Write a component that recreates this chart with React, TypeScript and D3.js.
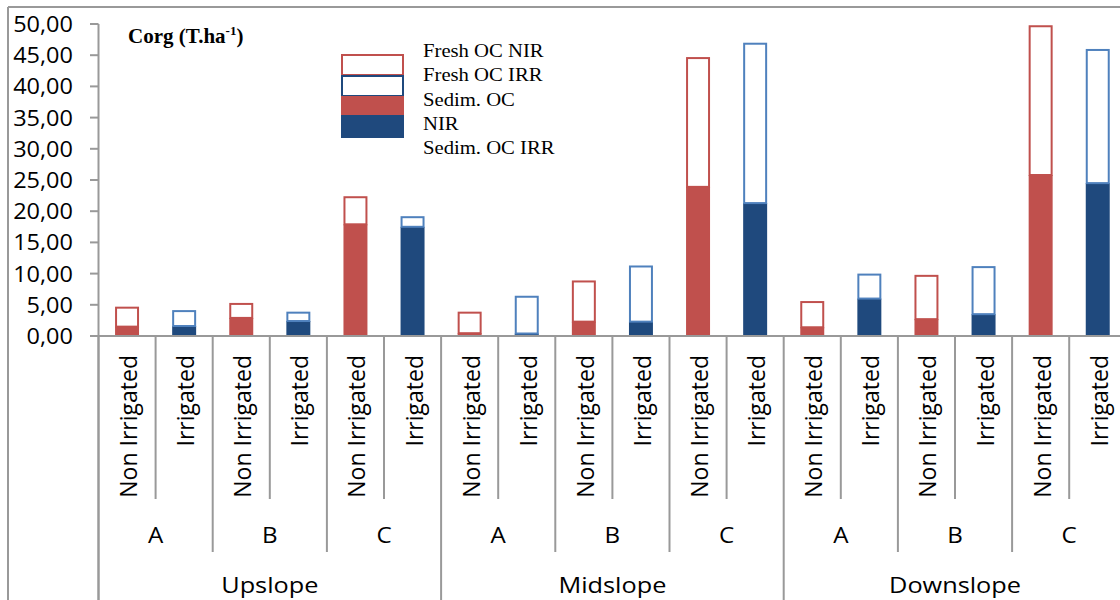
import React from "react";
import * as d3 from "d3";

const slopes = ["Upslope", "Midslope", "Downslope"];
const zones = ["A", "B", "C"];
const treatments = ["Non Irrigated", "Irrigated"];

// Sedimentary organic carbon (filled part of the bar)
const sedimOC = [1.5, 1.6, 2.9, 2.4, 17.9, 17.5, 0.45, 0.4, 2.3, 2.3, 23.9, 21.3, 1.4, 6.0, 2.7, 3.5, 25.8, 24.5];
// Fresh organic carbon (outlined part, stacked on top)
const freshOC = [3.2, 2.55, 2.4, 1.5, 4.5, 1.7, 3.45, 6.05, 6.6, 9.0, 20.8, 25.7, 4.2, 4.0, 7.1, 7.7, 24.0, 21.5];

const yTicks = [0, 5, 10, 15, 20, 25, 30, 35, 40, 45, 50];
const legendItems = ["Fresh OC NIR", "Fresh OC IRR", "Sedim. OC", "NIR", "Sedim. OC IRR"];

const RED = "#C0504D";
const BLUE = "#1F497D";
const LBLUE = "#4F81BD";
const GRID = "#999999";

type Cat = { slope: string; zone: string; treat: string; key: string; sed: number; fresh: number; irr: boolean };

const cats: Cat[] = [];
slopes.forEach((s) =>
  zones.forEach((z) =>
    treatments.forEach((t) => {
      const i = cats.length;
      cats.push({ slope: s, zone: z, treat: t, key: `${s}-${z}-${t}`, sed: sedimOC[i], fresh: freshOC[i], irr: t === "Irrigated" });
    })
  )
);

const SX = 1.15;

function WideText(props: { x: number; y: number; anchor?: string; size: number; family: string; weight?: string; children: any; baseline?: string; sx?: number }) {
  const { x, y, anchor = "start", size, family, weight = "normal", children, baseline, sx = SX } = props;
  return (
    <text
      transform={`translate(${x},${y}) scale(${sx},1)`}
      textAnchor={anchor}
      fontSize={size}
      fontFamily={family}
      fontWeight={weight}
      dominantBaseline={baseline}
      fill="#000"
    >
      {children}
    </text>
  );
}

export default function App() {
  const W = 1120;
  const H = 600;
  const x0 = 98.5;
  const step = 57.1;
  const x = d3
    .scaleBand<string>()
    .domain(cats.map((c) => c.key))
    .range([x0, x0 + step * cats.length])
    .padding(0);
  const y = d3.scaleLinear().domain([0, 50]).range([336, 24]);
  const barW = x.bandwidth() * 0.42;
  const sans = "'Open Sans', sans-serif";
  const serif = "'Liberation Serif', 'Times New Roman', serif";

  const boundaries = d3.range(cats.length + 1);

  return (
    <svg width={W} height={H} style={{ position: "absolute", left: 0, top: 0 }}>
      <rect x={0} y={0} width={W} height={H} fill="#fff" />
      {/* chart border */}
      <line x1={8} x2={W} y1={7} y2={7} stroke={GRID} strokeWidth={2} />
      <line x1={8} x2={8} y1={7} y2={H} stroke={GRID} strokeWidth={2} />

      {/* y axis */}
      <line x1={x0} x2={x0} y1={y(50)} y2={H} stroke={GRID} strokeWidth={2} />
      {yTicks.map((t) => (
        <g key={t}>
          <line x1={90} x2={x0} y1={y(t)} y2={y(t)} stroke={GRID} strokeWidth={2} />
          <WideText x={73} y={y(t)} anchor="end" size={21} family={sans} baseline="central" sx={1.12}>
            {d3.format(".2f")(t).replace(".", ",")}
          </WideText>
        </g>
      ))}

      {/* bars */}
      {cats.map((c) => {
        const cx = (x(c.key) as number) + x.bandwidth() / 2;
        const bx = cx - barW / 2;
        const fill = c.irr ? BLUE : RED;
        const outline = c.irr ? LBLUE : RED;
        const ySed = y(c.sed);
        const yTop = y(c.sed + c.fresh);
        return (
          <g key={c.key}>
            <rect x={bx} y={ySed} width={barW} height={y(0) - ySed} fill={fill} />
            <rect x={bx + 1} y={yTop + 1} width={barW - 2} height={ySed - yTop - 1} fill="#fff" stroke={outline} strokeWidth={2} />
          </g>
        );
      })}

      {/* x axis */}
      <line x1={x0} x2={W} y1={y(0)} y2={y(0)} stroke={GRID} strokeWidth={2} />
      {boundaries.map((i) => {
        const bx = x0 + i * step;
        const y2 = i % 6 === 0 ? H : i % 2 === 0 ? 552 : 499;
        return <line key={i} x1={bx} x2={bx} y1={y(0)} y2={y2} stroke={GRID} strokeWidth={2} />;
      })}

      {/* category labels */}
      {cats.map((c) => {
        const cx = (x(c.key) as number) + x.bandwidth() / 2;
        return (
          <text
            key={c.key + "-lbl"}
            transform={`translate(${cx + 1},355) rotate(-90)`}
            textAnchor="end"
            dominantBaseline="central"
            fontSize={23}
            fontFamily={sans}
            fill="#000"
          >
            {c.treat}
          </text>
        );
      })}
      {slopes.map((s, si) =>
        zones.map((z, zi) => {
          const start = si * 6 + zi * 2;
          const cx = x0 + (start + 1) * step;
          return (
            <WideText key={s + z} x={cx} y={535} anchor="middle" size={21} family={sans} baseline="central">
              {z}
            </WideText>
          );
        })
      )}
      {slopes.map((s, si) => {
        const cx = x0 + (si * 6 + 3) * step;
        return (
          <WideText key={s} x={cx} y={585} anchor="middle" size={22} family={sans} baseline="central">
            {s}
          </WideText>
        );
      })}

      {/* title */}
      <text x={128} y={43} fontFamily={serif} fontWeight="bold" fontSize={21} fill="#000">
        Corg (T.ha<tspan dy={-8} fontSize={13}>-1</tspan>
        <tspan dy={8}>)</tspan>
      </text>

      {/* legend */}
      <rect x={342} y={55} width={61} height={20} fill="#fff" stroke={RED} strokeWidth={2} />
      <rect x={342} y={76} width={61} height={20} fill="#fff" stroke={BLUE} strokeWidth={2} />
      <rect x={341} y={96} width={63} height={19} fill={RED} />
      <rect x={341} y={115} width={63} height={23} fill={BLUE} />
      {legendItems.map((t, i) => (
        <WideText key={t} x={423} y={57 + i * 24.3} size={18} family={serif}>
          {t}
        </WideText>
      ))}
    </svg>
  );
}
